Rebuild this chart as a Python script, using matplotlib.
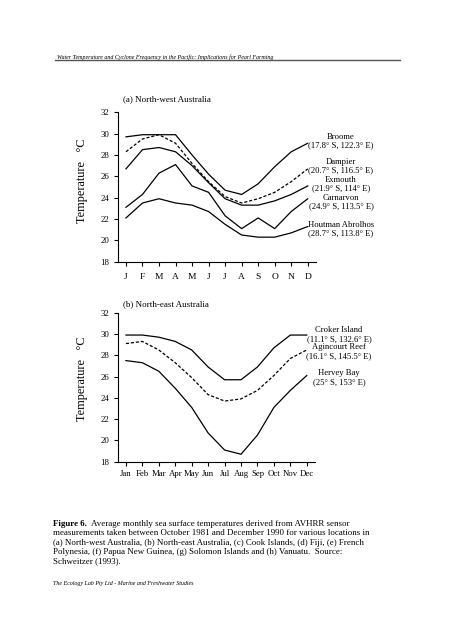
import numpy as np
import matplotlib.pyplot as plt

W, H = 452, 640
plt.rcParams['font.family'] = ['Liberation Serif', 'DejaVu Serif']

months_a = ['J', 'F', 'M', 'A', 'M', 'J', 'J', 'A', 'S', 'O', 'N', 'D']
months_b = ['Jan', 'Feb', 'Mar', 'Apr', 'May', 'Jun', 'Jul', 'Aug', 'Sep', 'Oct', 'Nov', 'Dec']

# (a) North-west Australia
broome = [29.7, 29.9, 29.9, 29.9, 28.0, 26.2, 24.7, 24.3, 25.3, 26.9, 28.3, 29.1]
dampier = [28.3, 29.5, 29.9, 29.1, 27.2, 25.5, 24.1, 23.5, 23.9, 24.5, 25.5, 26.7]
exmouth = [26.7, 28.5, 28.7, 28.3, 27.0, 25.4, 23.9, 23.3, 23.3, 23.7, 24.3, 25.1]
carnarvon = [23.1, 24.3, 26.3, 27.1, 25.1, 24.5, 22.3, 21.1, 22.1, 21.1, 22.7, 23.9]
houtman = [22.1, 23.5, 23.9, 23.5, 23.3, 22.7, 21.5, 20.5, 20.3, 20.3, 20.7, 21.3]

# (b) North-east Australia
croker = [29.9, 29.9, 29.7, 29.3, 28.5, 26.9, 25.7, 25.7, 26.9, 28.7, 29.9, 29.9]
agincourt = [29.1, 29.3, 28.5, 27.3, 25.9, 24.3, 23.7, 23.9, 24.7, 26.1, 27.7, 28.5]
hervey = [27.5, 27.3, 26.5, 24.9, 23.1, 20.7, 19.1, 18.7, 20.5, 23.1, 24.7, 26.1]

yticks = [18, 20, 22, 24, 26, 28, 30, 32]


def px(x, y):
    return x / W, 1 - y / H


def setup(ax, labels, ly):
    ax.set_xlim(-0.5, 11.5)
    ax.set_ylim(18, 32)
    ax.set_yticks(yticks)
    ax.set_xticks(range(12))
    ax.set_xticklabels(labels)
    for s in ['top', 'right']:
        ax.spines[s].set_visible(False)
    ax.spines['left'].set_linewidth(0.8)
    ax.spines['bottom'].set_linewidth(0.8)
    ax.tick_params(direction='out', length=3, width=0.8, labelsize=6.3, pad=3)
    ax.set_ylabel('Temperature   °C', fontsize=8.8)
    ax.yaxis.set_label_coords(-0.15, ly)


fig = plt.figure(figsize=(W / 100, H / 100), dpi=100)

axa = fig.add_axes([117.7 / W, 1 - 261.7 / H, (316 - 117.7) / W, (261.7 - 112.3) / H])
x = np.arange(12)
axa.plot(x, broome, 'k-', lw=0.9)
axa.plot(x, dampier, 'k--', lw=0.9, dashes=(2.5, 1.5))
axa.plot(x, exmouth, 'k-', lw=0.9)
axa.plot(x, carnarvon, 'k-', lw=0.9)
axa.plot(x, houtman, 'k-', lw=0.9)
setup(axa, months_a, 0.54)
axa.tick_params(axis='x', pad=5, labelsize=6.8)

axb = fig.add_axes([117.7 / W, 1 - 461.7 / H, (315 - 117.7) / W, (461.7 - 312.7) / H])
axb.plot(x, croker, 'k-', lw=0.9)
axb.plot(x, agincourt, 'k--', lw=0.9, dashes=(2.5, 1.5))
axb.plot(x, hervey, 'k-', lw=0.9)
setup(axb, months_b, 0.56)

fs = 6.2
fig.text(*px(123, 99), '(a) North-west Australia', fontsize=6.5, va='center')
fig.text(*px(123, 304), '(b) North-east Australia', fontsize=6.5, va='center')

labels_a = [(137, 'Broome', '(17.8° S, 122.3° E)'),
            (162, 'Dampier', '(20.7° S, 116.5° E)'),
            (180, 'Exmouth', '(21.9° S, 114° E)'),
            (198, 'Carnarvon', '(24.9° S, 113.5° E)'),
            (225, 'Houtman Abrolhos', '(28.7° S, 113.8° E)')]
for yy, name, coord in labels_a:
    fig.text(*px(341, yy), name, fontsize=fs, ha='center', va='center')
    fig.text(*px(341, yy + 8.5), coord, fontsize=fs, ha='center', va='center')

labels_b = [(330, 'Croker Island', '(11.1° S, 132.6° E)'),
            (347, 'Agincourt Reef', '(16.1° S, 145.5° E)'),
            (373, 'Hervey Bay', '(25° S, 153° E)')]
for yy, name, coord in labels_b:
    fig.text(*px(339, yy), name, fontsize=fs, ha='center', va='center')
    fig.text(*px(339, yy + 9), coord, fontsize=fs, ha='center', va='center')

# header
fig.text(*px(57, 58.5), 'Water Temperature and Cyclone Frequency in the Pacific: Implications for Pearl Farming',
         fontsize=4.3, style='italic', va='baseline')
fig.add_artist(plt.Line2D([55 / W, 400 / W], [1 - 59.8 / H, 1 - 59.8 / H], color='#555555', lw=1.0))

# caption
cap = ['  Average monthly sea surface temperatures derived from AVHRR sensor',
       'measurements taken between October 1981 and December 1990 for various locations in',
       '(a) North-west Australia, (b) North-east Australia, (c) Cook Islands, (d) Fiji, (e) French',
       'Polynesia, (f) Papua New Guinea, (g) Solomon Islands and (h) Vanuatu.  Source:',
       'Schweitzer (1993).']
cfs = 6.4
t0 = fig.text(*px(53, 524), 'Figure 6.', fontsize=cfs, weight='bold', va='center')
fig.canvas.draw()
bb = t0.get_window_extent()
fig.text(bb.x1 / W, 1 - 524 / H, cap[0], fontsize=cfs, va='center')
for i, line in enumerate(cap[1:], start=1):
    fig.text(*px(53, 524 + i * 9.4), line, fontsize=cfs, va='center')

fig.text(*px(53, 584), 'The Ecology Lab Pty Ltd - Marine and Freshwater Studies', fontsize=4.3,
         style='italic', va='center')

fig.savefig('out.png', dpi=100)
